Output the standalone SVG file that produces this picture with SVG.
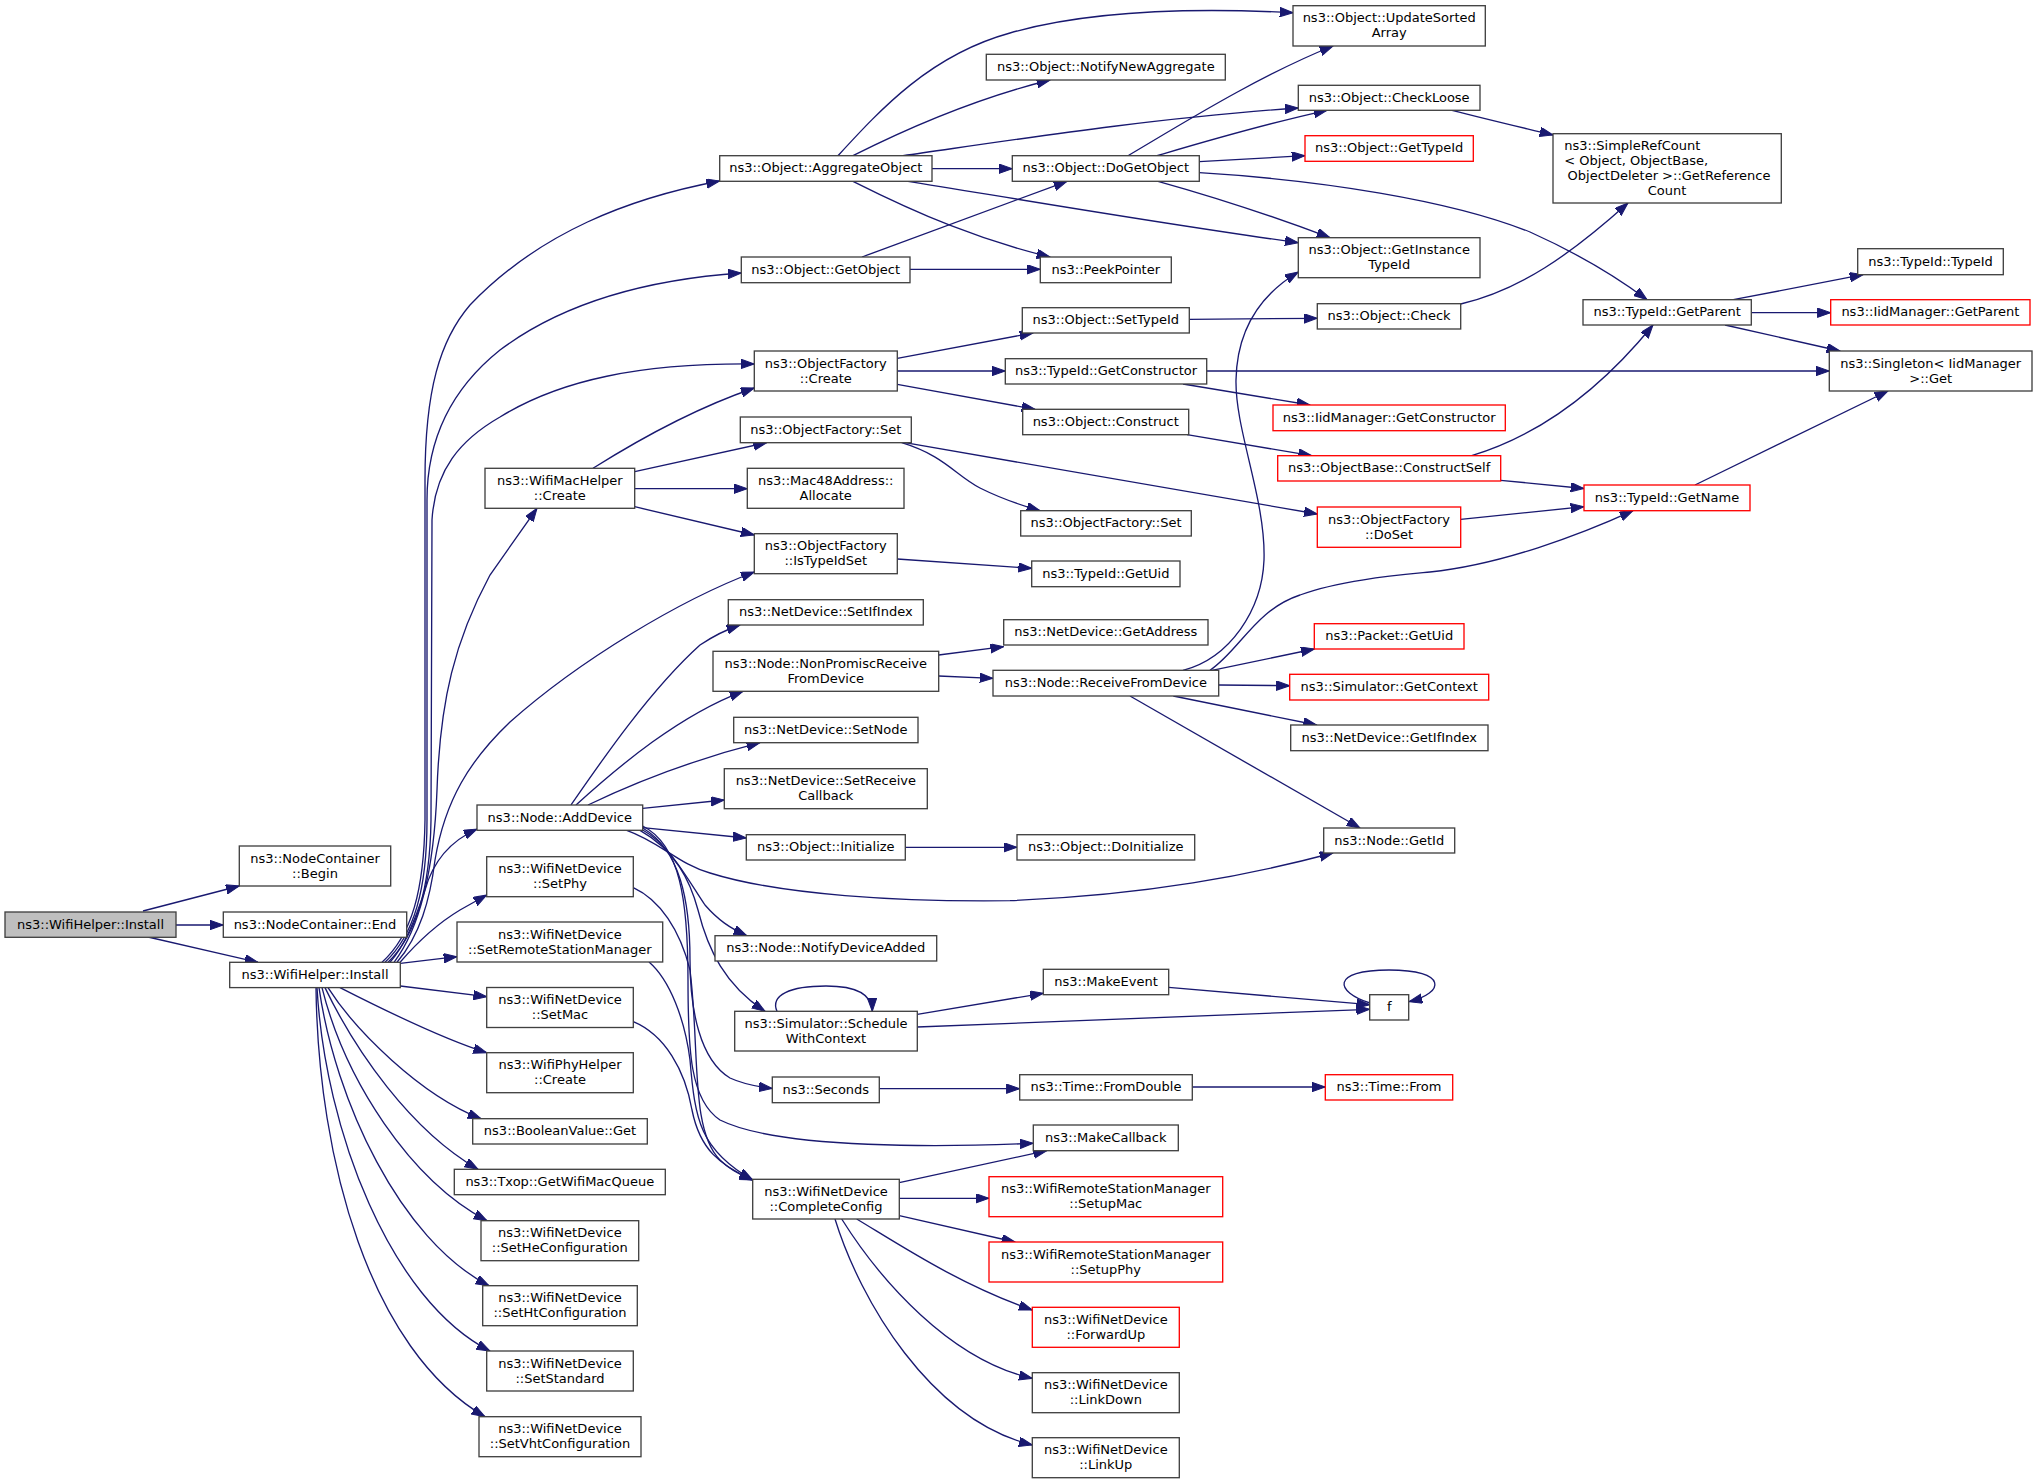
<svg xmlns="http://www.w3.org/2000/svg" width="2037" height="1484" viewBox="0 0 2037 1484">
<defs>
<style>
text{font-family:"DejaVu Sans","Liberation Sans",sans-serif;font-size:13px;fill:#000;text-anchor:middle}
text.l{text-anchor:start}
.b{fill:#fff;stroke:#404040;stroke-width:1.33}
.r{fill:#fff;stroke:#ff0000;stroke-width:1.33}
.g{fill:#bfbfbf;stroke:#404040;stroke-width:1.33}
#edges path{fill:none;stroke:#191970;stroke-width:1.33;marker-end:url(#ah)}
</style>
<marker id="ah" markerUnits="userSpaceOnUse" viewBox="0 0 14 10" markerWidth="14" markerHeight="10" refX="13.3" refY="4.7" orient="auto">
<path d="M0,0 L13.3,4.7 L0,9.4 z" fill="#191970" stroke="#191970" stroke-width="1"/>
</marker>
</defs>
<rect width="2037" height="1484" fill="#fff"/>
<g id="edges">
<path d="M143,911 L239.3,886"/>
<path d="M176,925 L223.3,925"/>
<path d="M148,937 L258,962.3"/>
<path d="M382,962.3 C412,935 424,890 425,820 L425,480 C425,390 440,340 470,305 C540,232 630,198 719.7,181"/>
<path d="M385,962.3 C414,935 427,890 427,820 L427,500 C427,440 450,390 500,350 C560,305 640,280 741.3,273"/>
<path d="M388,962.3 C416,935 430,890 431,820 L432,520 C435,470 460,440 500,417 C560,380 640,363 754.3,364"/>
<path d="M394,962.3 C420,928 434,870 437,790 C440,700 455,640 490,575 L537,508.3"/>
<path d="M397,962.3 C420,935 430,900 435,860 C445,800 470,760 510,722 C580,660 680,600 754.3,572"/>
<path d="M390,962.3 C405,945 415,920 425,890 C432,865 448,842 477,829"/>
<path d="M400.3,962 C415,945 435,925 460,910 L486.7,895"/>
<path d="M400.3,963.3 L457,956.7"/>
<path d="M400.3,986 L486.7,996.7"/>
<path d="M340,987.6 C380,1008 440,1038 486.7,1052.7"/>
<path d="M328,987.6 C355,1030 420,1095 481,1118.7"/>
<path d="M325,987.6 C355,1050 410,1130 478,1169.3"/>
<path d="M322,987.6 C345,1080 410,1180 487,1220.7"/>
<path d="M319,987.6 C335,1100 400,1240 489,1285.7"/>
<path d="M317,987.6 C325,1130 390,1300 490,1351"/>
<path d="M316,987.6 C318,1160 370,1350 485,1416.7"/>
<path d="M593,468.3 C630,445 690,410 754.3,388"/>
<path d="M634.7,471.7 L766.7,442.7"/>
<path d="M634.7,488.7 L747.3,488.7"/>
<path d="M634.7,506.7 L754.3,535"/>
<path d="M838,155.7 C880,110 930,55 1010,33 C1090,10 1200,8 1293,12.7"/>
<path d="M853,155.7 C900,132 970,100 1050,80"/>
<path d="M903,155.7 C1000,142 1150,118 1298.3,108"/>
<path d="M932,168.7 L1012.3,168.7"/>
<path d="M908,181.3 C1000,196 1150,222 1298.3,242.7"/>
<path d="M853,181.3 C920,215 980,240 1050,257"/>
<path d="M1128,155.7 C1180,125 1260,75 1333,46"/>
<path d="M1157,155.7 C1200,143 1260,125 1327,110.3"/>
<path d="M1199.3,161.7 L1305,155.7"/>
<path d="M1158,181.3 C1200,193 1270,215 1330,237.7"/>
<path d="M1199.3,172.7 C1320,180 1450,200 1530,232 C1570,250 1610,272 1647,299.7"/>
<path d="M862,257 C920,235 990,210 1067,181.3"/>
<path d="M910,269.3 L1040.3,269.3"/>
<path d="M1452,110.3 C1490,120 1520,127 1553,135"/>
<path d="M1460.7,304 C1520,290 1570,255 1628,203"/>
<path d="M897.3,358.3 L1033,333"/>
<path d="M897.3,371 L1005.3,371"/>
<path d="M897.3,384.3 L1035,409.3"/>
<path d="M1189.3,319.3 L1317.3,318.3"/>
<path d="M1206.7,371 L1829.3,371"/>
<path d="M1183,384 L1310,405"/>
<path d="M1187,434.7 L1311.7,455.7"/>
<path d="M1471.7,455.7 C1540,435 1600,390 1653,325"/>
<path d="M1500.7,480.3 L1584,488.5"/>
<path d="M1460.7,519.3 L1584,506.7"/>
<path d="M1733.3,299.7 L1863,274.7"/>
<path d="M1751.3,312.7 L1830.7,312.7"/>
<path d="M1725,325 L1840,351"/>
<path d="M1695,485 L1888,391"/>
<path d="M901.7,442.7 C945,456 955,475 980,488 C1000,498 1020,505 1040,510.7"/>
<path d="M905,442.7 L1317.3,514"/>
<path d="M897.3,559 L1031.7,568.3"/>
<path d="M938.7,655 L1003.7,646.7"/>
<path d="M938.7,676 L993,678.3"/>
<path d="M1183,670.3 C1230,658 1262,610 1264,560 C1266,500 1235,430 1236,380 C1237,330 1260,295 1298.3,272"/>
<path d="M1210,670.3 C1240,650 1255,610 1300,595 C1340,580 1400,575 1430,572 C1500,565 1580,535 1633,510.7"/>
<path d="M1212,670.3 L1314.3,649"/>
<path d="M1218.7,685 L1289.7,685.7"/>
<path d="M1173.3,696 L1316.7,725"/>
<path d="M1130,696 L1360,828"/>
<path d="M905.3,847.3 L1017,847.3"/>
<path d="M571,805 C600,763 650,690 700,645 C715,635 725,630 740,625"/>
<path d="M576,805 C620,765 680,715 743,691.3"/>
<path d="M588,805 C640,780 700,758 760,742.7"/>
<path d="M642.7,808.3 L724.3,800"/>
<path d="M642.7,827.7 L746.3,838"/>
<path d="M626.7,830.3 C660,842 680,865 710,873 C780,895 900,902 1010,900.7 C1150,895 1250,875 1333,853"/>
<path d="M642.7,830 C670,845 688,880 705,905 C718,920 730,928 746.7,935.7"/>
<path d="M640,830.3 C675,850 690,880 698,910 C708,950 725,985 765,1011.3"/>
<path d="M642.7,828 C680,850 690,900 690,960 C690,1010 700,1060 730,1078 C745,1085 760,1087 772.3,1088.5"/>
<path d="M642.7,826 C680,845 688,900 688,980 C688,1050 690,1100 720,1120 C780,1150 950,1147 1033.3,1143.3"/>
<path d="M633.3,887.7 C660,900 680,930 690,970 C700,1050 690,1130 720,1160 C730,1170 740,1175 752.7,1180"/>
<path d="M649,962 C670,980 685,1020 690,1060 C695,1120 700,1150 752.7,1180"/>
<path d="M633.3,1021.7 C665,1035 685,1070 692,1110 C700,1150 720,1165 752.7,1180"/>
<path d="M899.3,1182.7 L1046.7,1150.7"/>
<path d="M899.3,1198.3 L989,1198.3"/>
<path d="M899.3,1215.7 L1015,1242"/>
<path d="M856.7,1219 C900,1245 960,1285 1032.3,1310"/>
<path d="M841.7,1219 C880,1280 950,1360 1032.3,1378.3"/>
<path d="M835,1219 C860,1300 930,1420 1032.3,1445"/>
<path d="M777,1011.3 C770,995 790,986 826,986 C855,986 872,993 872.3,1011.3"/>
<path d="M917.3,1014.3 L1043.3,993.3"/>
<path d="M917.3,1027 L1369.7,1009.3"/>
<path d="M1168.7,987.3 L1369.7,1004.7"/>
<path d="M1370,1003 C1335,992 1330,970 1389,970 C1448,970 1445,993 1409,1001.7"/>
<path d="M879.3,1088.7 L1019.7,1088.7"/>
<path d="M1192.3,1087 L1325.3,1087"/>
</g>
<g id="root"><rect class="g" x="5" y="912" width="171" height="25.3"/><text x="90.5" y="928.7">ns3::WifiHelper::Install</text></g>
<g id="begin"><rect class="b" x="239.3" y="846" width="151.4" height="40"/><text x="315" y="862.5">ns3::NodeContainer</text><text x="315" y="877.5">::Begin</text></g>
<g id="end"><rect class="b" x="223.3" y="912" width="183.4" height="25.3"/><text x="315" y="928.7">ns3::NodeContainer::End</text></g>
<g id="install"><rect class="b" x="229.7" y="962.3" width="170.6" height="25.3"/><text x="315" y="979">ns3::WifiHelper::Install</text></g>
<g id="aggr"><rect class="b" x="719.7" y="155.7" width="212.3" height="25.6"/><text x="825.8" y="172.4">ns3::Object::AggregateObject</text></g>
<g id="getobj"><rect class="b" x="741.3" y="257" width="168.7" height="25.7"/><text x="825.7" y="273.8">ns3::Object::GetObject</text></g>
<g id="ofcreate"><rect class="b" x="754.3" y="351" width="143" height="40"/><text x="825.8" y="367.5">ns3::ObjectFactory</text><text x="825.8" y="382.5">::Create</text></g>
<g id="ofset1"><rect class="b" x="740.3" y="417" width="171" height="25.7"/><text x="825.8" y="433.8">ns3::ObjectFactory::Set</text></g>
<g id="macc"><rect class="b" x="485" y="468.3" width="149.7" height="40"/><text x="559.8" y="484.8">ns3::WifiMacHelper</text><text x="559.8" y="499.8">::Create</text></g>
<g id="alloc"><rect class="b" x="747.3" y="468.3" width="156.7" height="40"/><text x="825.7" y="484.8">ns3::Mac48Address::</text><text x="825.7" y="499.8">Allocate</text></g>
<g id="istid"><rect class="b" x="754.3" y="533.7" width="143" height="40"/><text x="825.8" y="550.2">ns3::ObjectFactory</text><text x="825.8" y="565.2">::IsTypeIdSet</text></g>
<g id="setifidx"><rect class="b" x="728.3" y="599.7" width="195" height="25.3"/><text x="825.8" y="616.4">ns3::NetDevice::SetIfIndex</text></g>
<g id="nonprom"><rect class="b" x="713" y="651.3" width="225.7" height="40"/><text x="825.8" y="667.8">ns3::Node::NonPromiscReceive</text><text x="825.8" y="682.8">FromDevice</text></g>
<g id="setnode"><rect class="b" x="733.7" y="717.3" width="184.3" height="25.4"/><text x="825.8" y="734">ns3::NetDevice::SetNode</text></g>
<g id="setrecv"><rect class="b" x="724.3" y="768.7" width="203" height="40"/><text x="825.8" y="785.2">ns3::NetDevice::SetReceive</text><text x="825.8" y="800.2">Callback</text></g>
<g id="adddev"><rect class="b" x="477" y="805" width="165.7" height="25.3"/><text x="559.8" y="821.7">ns3::Node::AddDevice</text></g>
<g id="init"><rect class="b" x="746.3" y="834.7" width="159" height="25.3"/><text x="825.8" y="851.4">ns3::Object::Initialize</text></g>
<g id="setphy"><rect class="b" x="486.7" y="856.7" width="146.6" height="40"/><text x="560" y="873.2">ns3::WifiNetDevice</text><text x="560" y="888.2">::SetPhy</text></g>
<g id="setrsm"><rect class="b" x="457" y="922" width="205.7" height="40"/><text x="559.8" y="938.5">ns3::WifiNetDevice</text><text x="559.8" y="953.5">::SetRemoteStationManager</text></g>
<g id="notify"><rect class="b" x="715" y="935.7" width="221.7" height="25.3"/><text x="825.8" y="952.4">ns3::Node::NotifyDeviceAdded</text></g>
<g id="setmac"><rect class="b" x="486.7" y="987.5" width="146.6" height="40"/><text x="560" y="1004">ns3::WifiNetDevice</text><text x="560" y="1019">::SetMac</text></g>
<g id="phyc"><rect class="b" x="486.7" y="1052.7" width="146.6" height="40"/><text x="560" y="1069.2">ns3::WifiPhyHelper</text><text x="560" y="1084.2">::Create</text></g>
<g id="boolget"><rect class="b" x="472.7" y="1118.7" width="174.6" height="25.3"/><text x="560" y="1135.4">ns3::BooleanValue::Get</text></g>
<g id="txop"><rect class="b" x="454.3" y="1169.3" width="211" height="25.4"/><text x="559.8" y="1186">ns3::Txop::GetWifiMacQueue</text></g>
<g id="sethe"><rect class="b" x="481" y="1220.7" width="157.7" height="40"/><text x="559.8" y="1237.2">ns3::WifiNetDevice</text><text x="559.8" y="1252.2">::SetHeConfiguration</text></g>
<g id="setht"><rect class="b" x="482.7" y="1285.7" width="154.6" height="40"/><text x="560" y="1302.2">ns3::WifiNetDevice</text><text x="560" y="1317.2">::SetHtConfiguration</text></g>
<g id="setstd"><rect class="b" x="486.7" y="1351" width="146.6" height="40"/><text x="560" y="1367.5">ns3::WifiNetDevice</text><text x="560" y="1382.5">::SetStandard</text></g>
<g id="setvht"><rect class="b" x="479" y="1416.7" width="162" height="40"/><text x="560" y="1433.2">ns3::WifiNetDevice</text><text x="560" y="1448.2">::SetVhtConfiguration</text></g>
<g id="sched"><rect class="b" x="734.7" y="1011.3" width="182.6" height="39.7"/><text x="826" y="1027.7">ns3::Simulator::Schedule</text><text x="826" y="1042.7">WithContext</text></g>
<g id="seconds"><rect class="b" x="772.3" y="1077" width="107" height="25.7"/><text x="825.8" y="1093.8">ns3::Seconds</text></g>
<g id="complete"><rect class="b" x="752.7" y="1179.3" width="146.6" height="39.7"/><text x="826" y="1195.7">ns3::WifiNetDevice</text><text x="826" y="1210.7">::CompleteConfig</text></g>
<g id="nna"><rect class="b" x="986.3" y="54.3" width="239" height="25.7"/><text x="1105.8" y="71">ns3::Object::NotifyNewAggregate</text></g>
<g id="dogetobj"><rect class="b" x="1012.3" y="155.7" width="187" height="25.6"/><text x="1105.8" y="172.4">ns3::Object::DoGetObject</text></g>
<g id="peek"><rect class="b" x="1040.3" y="257" width="131" height="25.7"/><text x="1105.8" y="273.8">ns3::PeekPointer</text></g>
<g id="settid"><rect class="b" x="1022.3" y="307.7" width="167" height="25.3"/><text x="1105.8" y="324.4">ns3::Object::SetTypeId</text></g>
<g id="getctor"><rect class="b" x="1005.3" y="358.7" width="201.4" height="25.3"/><text x="1106" y="375.4">ns3::TypeId::GetConstructor</text></g>
<g id="construct"><rect class="b" x="1022.7" y="409.3" width="166" height="25.4"/><text x="1105.7" y="426">ns3::Object::Construct</text></g>
<g id="ofset2"><rect class="b" x="1020.7" y="510.7" width="170.6" height="25.3"/><text x="1106" y="527.4">ns3::ObjectFactory::Set</text></g>
<g id="getuid"><rect class="b" x="1031.7" y="561" width="148.3" height="25.7"/><text x="1105.8" y="577.8">ns3::TypeId::GetUid</text></g>
<g id="getaddr"><rect class="b" x="1003.7" y="619.7" width="204.3" height="25.3"/><text x="1105.8" y="636.4">ns3::NetDevice::GetAddress</text></g>
<g id="recv"><rect class="b" x="993" y="670.3" width="225.7" height="25.7"/><text x="1105.8" y="687">ns3::Node::ReceiveFromDevice</text></g>
<g id="doinit"><rect class="b" x="1017" y="834.7" width="177.7" height="25.3"/><text x="1105.8" y="851.4">ns3::Object::DoInitialize</text></g>
<g id="makeevent"><rect class="b" x="1043.3" y="969.3" width="125.4" height="25.4"/><text x="1106" y="986">ns3::MakeEvent</text></g>
<g id="fromdouble"><rect class="b" x="1019.7" y="1074.7" width="172.6" height="25.3"/><text x="1106" y="1091.4">ns3::Time::FromDouble</text></g>
<g id="makecb"><rect class="b" x="1033.3" y="1125" width="145" height="25.7"/><text x="1105.8" y="1141.8">ns3::MakeCallback</text></g>
<g id="setupmac"><rect class="r" x="989" y="1176.7" width="233.7" height="40"/><text x="1105.8" y="1193.2">ns3::WifiRemoteStationManager</text><text x="1105.8" y="1208.2">::SetupMac</text></g>
<g id="setupphy"><rect class="r" x="989" y="1242" width="233.7" height="40"/><text x="1105.8" y="1258.5">ns3::WifiRemoteStationManager</text><text x="1105.8" y="1273.5">::SetupPhy</text></g>
<g id="fwdup"><rect class="r" x="1032.3" y="1307.3" width="147" height="40"/><text x="1105.8" y="1323.8">ns3::WifiNetDevice</text><text x="1105.8" y="1338.8">::ForwardUp</text></g>
<g id="linkdown"><rect class="b" x="1032.3" y="1372.7" width="147" height="40"/><text x="1105.8" y="1389.2">ns3::WifiNetDevice</text><text x="1105.8" y="1404.2">::LinkDown</text></g>
<g id="linkup"><rect class="b" x="1032.3" y="1437.7" width="147" height="40"/><text x="1105.8" y="1454.2">ns3::WifiNetDevice</text><text x="1105.8" y="1469.2">::LinkUp</text></g>
<g id="usa"><rect class="b" x="1293" y="5.7" width="192.3" height="40.3"/><text x="1389.2" y="22.2">ns3::Object::UpdateSorted</text><text x="1389.2" y="37.2">Array</text></g>
<g id="checkloose"><rect class="b" x="1298.3" y="85.3" width="181.7" height="25"/><text x="1389.2" y="101.8">ns3::Object::CheckLoose</text></g>
<g id="gettid"><rect class="r" x="1305" y="135.7" width="168.3" height="25.6"/><text x="1389.2" y="152.4">ns3::Object::GetTypeId</text></g>
<g id="git"><rect class="b" x="1298.3" y="237.7" width="181.7" height="40"/><text x="1389.2" y="254.2">ns3::Object::GetInstance</text><text x="1389.2" y="269.2">TypeId</text></g>
<g id="check"><rect class="b" x="1317.3" y="303.7" width="143.4" height="25.3"/><text x="1389" y="320.4">ns3::Object::Check</text></g>
<g id="iidctor"><rect class="r" x="1273" y="405" width="232.3" height="25.7"/><text x="1389.2" y="421.8">ns3::IidManager::GetConstructor</text></g>
<g id="cself"><rect class="r" x="1277.7" y="455.7" width="223" height="25.3"/><text x="1389.2" y="472.4">ns3::ObjectBase::ConstructSelf</text></g>
<g id="doset"><rect class="r" x="1317.3" y="507" width="143.4" height="40.3"/><text x="1389" y="523.5">ns3::ObjectFactory</text><text x="1389" y="538.5">::DoSet</text></g>
<g id="pktuid"><rect class="r" x="1314.3" y="623.7" width="149.7" height="25.3"/><text x="1389.2" y="640.4">ns3::Packet::GetUid</text></g>
<g id="simctx"><rect class="r" x="1289.7" y="674.3" width="199" height="25.7"/><text x="1389.2" y="691">ns3::Simulator::GetContext</text></g>
<g id="getifidx"><rect class="b" x="1290.7" y="725" width="197.3" height="25.7"/><text x="1389.3" y="741.8">ns3::NetDevice::GetIfIndex</text></g>
<g id="getid"><rect class="b" x="1323.7" y="828" width="131" height="25"/><text x="1389.2" y="844.5">ns3::Node::GetId</text></g>
<g id="f"><rect class="b" x="1369.7" y="994.7" width="39" height="25.3"/><text x="1389.2" y="1011.4">f</text></g>
<g id="timefrom"><rect class="r" x="1325.3" y="1074.7" width="127.4" height="25.3"/><text x="1389" y="1091.4">ns3::Time::From</text></g>
<g id="src"><rect class="b" x="1553" y="133.7" width="228.3" height="69.3"/><text class="l" x="1564.3" y="150">ns3::SimpleRefCount</text><text class="l" x="1564.3" y="165">&lt; Object, ObjectBase,</text><text x="1669" y="180">ObjectDeleter &gt;::GetReference</text><text x="1667" y="195">Count</text></g>
<g id="getparent"><rect class="b" x="1583" y="299.7" width="168.3" height="25.3"/><text x="1667.2" y="316.4">ns3::TypeId::GetParent</text></g>
<g id="getname"><rect class="r" x="1584" y="485" width="166" height="25.7"/><text x="1667" y="501.8">ns3::TypeId::GetName</text></g>
<g id="tidtid"><rect class="b" x="1857.7" y="248.7" width="145.6" height="26"/><text x="1930.5" y="265.5">ns3::TypeId::TypeId</text></g>
<g id="iidparent"><rect class="r" x="1830.7" y="299.7" width="199.3" height="25.3"/><text x="1930.4" y="316.4">ns3::IidManager::GetParent</text></g>
<g id="singleton"><rect class="b" x="1829.3" y="351" width="202.7" height="40"/><text x="1930.7" y="367.5">ns3::Singleton&lt; IidManager</text><text x="1930.7" y="382.5">&gt;::Get</text></g>
</svg>
